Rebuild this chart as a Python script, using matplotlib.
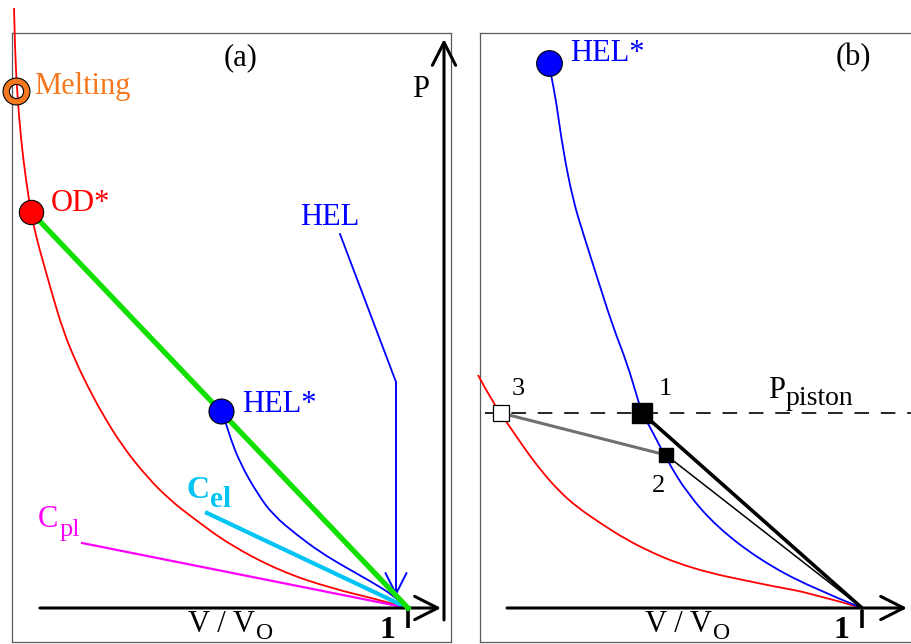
import matplotlib
matplotlib.use('Agg')
import matplotlib.pyplot as plt
from matplotlib.path import Path
from matplotlib.patches import PathPatch

plt.rcParams['font.family'] = 'Liberation Serif'
plt.rcParams['lines.scale_dashes'] = False

# ---- panel (a) data: V/V0 and P (arbitrary units) ----
red_a_v = [0.606, 0.607, 0.609, 0.613, 0.618, 0.623, 0.629, 0.636, 0.645, 0.655, 0.667, 0.680,
           0.695, 0.715, 0.739, 0.762, 0.785, 0.822, 0.872, 0.922, 0.972, 1.000]
red_a_p = [6.00, 5.58, 5.18, 4.68, 4.28, 3.95, 3.68, 3.43, 3.11, 2.78, 2.48, 2.21,
           1.93, 1.61, 1.31, 1.08, 0.90, 0.63, 0.37, 0.20, 0.08, 0.00]
blue_a_v = [0.813, 0.818, 0.822, 0.832, 0.849, 0.865, 0.889, 0.912, 0.937, 0.962, 0.985, 1.000]
blue_a_p = [1.97, 1.85, 1.71, 1.45, 1.15, 0.93, 0.73, 0.56, 0.41, 0.27, 0.13, 0.00]
melt_pt = (0.608, 5.17)
od_pt = (0.623, 3.96)
hel_a_pt = (0.813, 1.97)
cel_start = (0.799, 0.95)
cpl_start = (0.674, 0.65)
hel_ptr_v = [0.932, 0.988, 0.988]
hel_ptr_p = [3.74, 2.26, 0.12]
tip_pt = (1.0, 0.0)

# ---- panel (b) data ----
hel_b_pt = (0.687, 5.45)
blue_b_v = [0.687, 0.689, 0.694, 0.701, 0.711, 0.721, 0.735, 0.751, 0.765, 0.776, 0.780, 0.788,
            0.805, 0.825, 0.855, 0.898, 0.948, 1.000]
blue_b_p = [5.45, 5.33, 5.08, 4.58, 4.08, 3.75, 3.31, 2.81, 2.45, 2.08, 1.95, 1.81,
            1.48, 1.15, 0.81, 0.48, 0.21, 0.00]
red_b_v = [0.616, 0.631, 0.648, 0.665, 0.681, 0.698, 0.715, 0.738, 0.765, 0.791, 0.815, 0.848,
           0.881, 0.915, 0.948, 1.000]
red_b_p = [2.33, 2.05, 1.81, 1.56, 1.35, 1.16, 1.01, 0.85, 0.68, 0.55, 0.45, 0.35,
           0.28, 0.21, 0.15, 0.00]
p_piston = 1.95
state_names = ['1', '2', '3']
state_v = [0.780, 0.804, 0.639]
state_p = [1.95, 1.53, 1.95]

RED = '#ff0000'
BLUE = '#0000ff'
GREEN = '#11e000'
CYAN = '#00c4f4'
MAGENTA = '#ff00ff'
ORANGE = '#f5781e'
FS = 22


def smooth_curve(ax, xs, ys, color, lw, zorder=3, clip=True):
    # quadratic bezier path through the read points (points act as control points)
    verts = [(xs[0], ys[0])]
    codes = [Path.MOVETO]
    for i in range(1, len(xs) - 1):
        if i < len(xs) - 2:
            end = ((xs[i] + xs[i + 1]) / 2, (ys[i] + ys[i + 1]) / 2)
        else:
            end = (xs[i + 1], ys[i + 1])
        verts += [(xs[i], ys[i]), end]
        codes += [Path.CURVE3, Path.CURVE3]
    patch = PathPatch(Path(verts, codes), facecolor='none', edgecolor=color, lw=lw,
                      zorder=zorder, clip_on=clip)
    ax.add_patch(patch)


def sub_label(ax, x, y, main, sub, color, size=FS, subsize=19, drop=5, weight='normal'):
    t = ax.text(x, y, main, color=color, fontsize=size, fontweight=weight,
                ha='left', va='baseline', zorder=6)
    ax.annotate(sub, xy=(1, 0), xycoords=t, xytext=(0.5, -drop), textcoords='offset points',
                color=color, fontsize=subsize, fontweight=weight, ha='left', va='bottom', zorder=6)


def axis_arrow(ax, start, end, color='k', lw=2.2, scale=22):
    ax.annotate('', xy=end, xytext=start,
                arrowprops=dict(arrowstyle='->,head_length=0.75,head_width=0.38',
                                color=color, lw=lw, mutation_scale=scale,
                                shrinkA=0, shrinkB=0),
                annotation_clip=False)


fig = plt.figure(figsize=(9.11, 6.44), dpi=100)
ax_a = fig.add_axes([12 / 911, 2 / 644, 439 / 911, 609 / 644])
ax_b = fig.add_axes([480 / 911, 2 / 644, 433 / 911, 609 / 644])
ax_a.set_xlim(0.604, 1.043)
ax_b.set_xlim(0.618, 1.051)
for ax in (ax_a, ax_b):
    ax.set_ylim(-0.34, 5.75)
    ax.set_xticks([])
    ax.set_yticks([])
    for sp in ax.spines.values():
        sp.set_color('#5a5a5a')
        sp.set_linewidth(0.9)

# ================= panel (a) =================
ax = ax_a
smooth_curve(ax, red_a_v, red_a_p, RED, 1.3, zorder=3, clip=False)
ax.plot([cpl_start[0], tip_pt[0]], [cpl_start[1], tip_pt[1]], color=MAGENTA, lw=1.6, zorder=3)
ax.plot([cel_start[0], tip_pt[0]], [cel_start[1], tip_pt[1]], color=CYAN, lw=3.0, zorder=3)
smooth_curve(ax, blue_a_v, blue_a_p, BLUE, 1.3, zorder=4)
ax.plot([od_pt[0], tip_pt[0]], [od_pt[1], tip_pt[1]], color=GREEN, lw=3.8, zorder=4)

# melting ring
ax.plot(*melt_pt, 'o', ms=9.5, mfc='white', mec='none', zorder=2, clip_on=False)
ax.plot(*melt_pt, 'o', ms=14.8, mfc='none', mec=ORANGE, mew=4.4, zorder=5, clip_on=False)
ax.plot(*melt_pt, 'o', ms=19.4, mfc='none', mec='k', mew=0.8, zorder=5, clip_on=False)
ax.plot(*melt_pt, 'o', ms=10.2, mfc='none', mec='k', mew=0.8, zorder=5, clip_on=False)

ax.plot(*od_pt, 'o', ms=17.5, mfc=RED, mec='k', mew=0.8, zorder=5, clip_on=False)
ax.plot(*hel_a_pt, 'o', ms=18, mfc=BLUE, mec='k', mew=0.8, zorder=5)

# HEL pointer
ax.plot(hel_ptr_v[:2], hel_ptr_p[:2], color=BLUE, lw=1.3, zorder=4)
axis_arrow(ax, (hel_ptr_v[1], hel_ptr_p[1]), (hel_ptr_v[2], hel_ptr_p[2]), color=BLUE, lw=1.4, scale=20)

# axes
axis_arrow(ax, (0.632, 0.0), (1.033, 0.0))
axis_arrow(ax, (1.036, -0.12), (1.036, 5.69))
ax.plot([1.0, 1.0], [-0.02, -0.20], color='k', lw=2.6, solid_capstyle='butt')

ax.text(0.626, 5.14, 'Melting', color=ORANGE, fontsize=FS, ha='left', va='baseline', zorder=6)
ax.text(0.643, 3.97, 'OD*', color=RED, fontsize=FS, ha='left', va='baseline', zorder=6)
ax.text(0.892, 3.83, 'HEL', color=BLUE, fontsize=FS, ha='left', va='baseline', zorder=6)
ax.text(0.834, 1.96, 'HEL*', color=BLUE, fontsize=FS, ha='left', va='baseline', zorder=6)
ax.text(0.833, 5.43, '(a)', color='k', fontsize=FS, ha='center', va='baseline')
ax.text(1.004, 5.11, 'P', color='k', fontsize=FS, ha='left', va='baseline')
sub_label(ax, 0.778, 1.10, 'C', 'el', CYAN, size=23, subsize=21, drop=6, weight='bold')
sub_label(ax, 0.630, 0.81, 'C', 'pl', MAGENTA, size=FS, subsize=19, drop=5)
sub_label(ax, 0.780, -0.24, 'V / V', 'O', 'k', size=FS, subsize=17, drop=3.5)
ax.text(0.979, -0.30, '1', color='k', fontsize=23, fontweight='bold', ha='center', va='baseline')

# ================= panel (b) =================
ax = ax_b
smooth_curve(ax, red_b_v, red_b_p, RED, 1.3, zorder=3, clip=False)
smooth_curve(ax, blue_b_v, blue_b_p, BLUE, 1.3, zorder=3)
ax.plot(*hel_b_pt, 'o', ms=18.5, mfc=BLUE, mec='k', mew=0.8, zorder=5)

ax.plot([0.623, 1.06], [p_piston, p_piston], color='k', lw=1.2, dashes=[10.5, 8.5], zorder=2,
        clip_on=False)

# state lines: 3 -> 2 (gray), 2 -> origin (thin), 1 -> origin (thick)
ax.plot([state_v[2], state_v[1]], [state_p[2], state_p[1]], color='#707070', lw=2.2, zorder=4)
ax.plot([state_v[1], tip_pt[0]], [state_p[1], tip_pt[1]], color='k', lw=1.1, zorder=4)
ax.plot([state_v[0], tip_pt[0]], [state_p[0], tip_pt[1]], color='k', lw=2.6, zorder=4)

ax.plot(state_v[0], state_p[0], 's', ms=14.5, mfc='k', mec='k', zorder=5)
ax.plot(state_v[1], state_p[1], 's', ms=9.5, mfc='k', mec='k', zorder=5)
ax.plot(state_v[2], state_p[2], 's', ms=11.5, mfc='white', mec='k', mew=0.9, zorder=5)

label_off = [(0.023, 0.18), (-0.008, -0.37), (0.017, 0.18)]
for name, v, p, (dv, dp) in zip(state_names, state_v, state_p, label_off):
    ax.text(v + dv, p + dp, name, fontsize=19, ha='center', va='baseline', zorder=6)

axis_arrow(ax, (0.645, 0.0), (1.045, 0.0))
ax.plot([1.0, 1.0], [-0.02, -0.20], color='k', lw=2.6, solid_capstyle='butt')

ax.text(0.708, 5.47, 'HEL*', color=BLUE, fontsize=FS, ha='left', va='baseline')
ax.text(0.991, 5.43, '(b)', color='k', fontsize=FS, ha='center', va='baseline')
sub_label(ax, 0.906, 2.10, 'P', 'piston', 'k', size=FS, subsize=20, drop=4)
sub_label(ax, 0.783, -0.24, 'V / V', 'O', 'k', size=FS, subsize=17, drop=3.5)
ax.text(0.979, -0.30, '1', color='k', fontsize=23, fontweight='bold', ha='center', va='baseline')

fig.savefig('out.png', dpi=100)
